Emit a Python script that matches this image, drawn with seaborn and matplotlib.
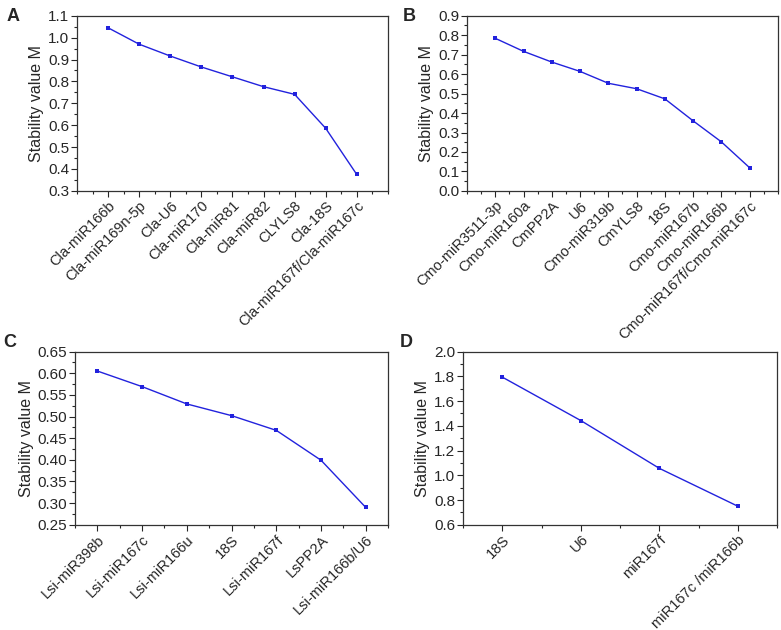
import numpy as np
import pandas as pd
import matplotlib
matplotlib.use("Agg")
import matplotlib.pyplot as plt
from matplotlib.ticker import MultipleLocator, FormatStrFormatter
import seaborn as sns

# panel A - watermelon
a_genes = ["Cla-miR166b", "Cla-miR169n-5p", "Cla-U6", "Cla-miR170", "Cla-miR81",
           "Cla-miR82", "CLYLS8", "Cla-18S", "Cla-miR167f/Cla-miR167c"]
a_m = [1.045, 0.970, 0.916, 0.866, 0.821, 0.776, 0.741, 0.586, 0.375]

# panel B - melon
b_genes = ["Cmo-miR3511-3p", "Cmo-miR160a", "CmPP2A", "U6", "Cmo-miR319b",
           "CmYLS8", "18S", "Cmo-miR167b", "Cmo-miR166b", "Cmo-miR167f/Cmo-miR167c"]
b_m = [0.784, 0.717, 0.662, 0.614, 0.553, 0.525, 0.473, 0.360, 0.252, 0.119]

# panel C - sponge gourd
c_genes = ["Lsi-miR398b", "Lsi-miR167c", "Lsi-miR166u", "18S", "Lsi-miR167f",
           "LsPP2A", "Lsi-miR166b/U6"]
c_m = [0.605, 0.569, 0.529, 0.502, 0.468, 0.399, 0.290]

# panel D
d_genes = ["18S", "U6", "miR167f", "miR167c /miR166b"]
d_m = [1.793, 1.442, 1.056, 0.750]

sns.set_style("ticks")
plt.rcParams['font.family'] = ['Liberation Sans', 'DejaVu Sans']
plt.rcParams['font.size'] = 11

fig = plt.figure(figsize=(7.81, 6.3), dpi=100)

panels = [
    # letter, genes, values, rect, xpad, ylim, ystep, fmt, letter pos
    ("A", a_genes, a_m, [0.0986, 0.697, 0.398, 0.278], 1.0, (0.3, 1.1), 0.1, "%.1f", (0.008, 0.988)),
    ("B", b_genes, b_m, [0.598, 0.697, 0.398, 0.278], 1.0, (0.0, 0.9), 0.1, "%.1f", (0.516, 0.988)),
    ("C", c_genes, c_m, [0.096, 0.167, 0.401, 0.275], 0.5, (0.25, 0.65), 0.05, "%.2f", (0.004, 0.470)),
    ("D", d_genes, d_m, [0.593, 0.167, 0.402, 0.275], 0.5, (0.6, 2.0), 0.2, "%.1f", (0.512, 0.470)),
]

for letter, genes, vals, rect, xpad, ylim, ystep, fmt, lpos in panels:
    ax = fig.add_axes(rect)
    df = pd.DataFrame({"pos": np.arange(len(genes)), "M": vals})
    sns.lineplot(data=df, x="pos", y="M", ax=ax, color="#2222dd", linewidth=1.0,
                 marker="s", markersize=3, markeredgewidth=0)
    ax.set_xlim(-xpad, len(genes) - 1 + xpad)
    ax.set_ylim(*ylim)
    ax.set_xticks(np.arange(len(genes)))
    ax.set_xticklabels(genes, rotation=45, ha="right", rotation_mode="anchor", fontsize=10.5)
    ax.xaxis.set_minor_locator(MultipleLocator(0.5))
    ax.yaxis.set_major_locator(MultipleLocator(ystep))
    ax.yaxis.set_minor_locator(MultipleLocator(ystep / 2))
    ax.yaxis.set_major_formatter(FormatStrFormatter(fmt))
    ax.tick_params(axis="y", which="major", labelsize=11)
    ax.tick_params(axis="both", which="major", length=4, width=0.8, pad=1.5)
    ax.tick_params(axis="both", which="minor", length=2, width=0.8)
    ax.set_xlabel("")
    ax.set_ylabel("Stability value M", fontsize=11.5, labelpad=3)
    for s in ax.spines.values():
        s.set_color("#333333")
        s.set_linewidth(0.9)
    fig.text(lpos[0], lpos[1], letter, fontsize=13, fontweight="bold", va="top", ha="left")

fig.savefig("out.png", dpi=100)
